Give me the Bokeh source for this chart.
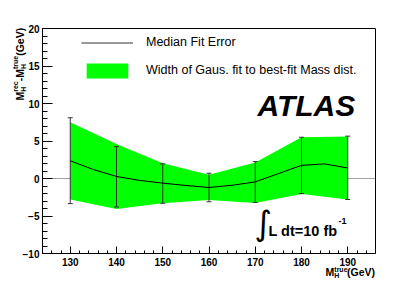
import math
from bokeh.plotting import figure
from bokeh.models import Label, Legend, LegendItem, FixedTicker, BoxAnnotation
from bokeh.embed import file_html
from bokeh.resources import INLINE

# ---- data ----
mass = [130, 140, 150, 160, 170, 180, 190]
band_hi = [7.5, 4.6, 2.05, 0.5, 2.15, 5.5, 5.6]
band_lo = [-2.8, -4.05, -3.3, -2.85, -3.25, -2.05, -2.8]
err_hi = [8.1, 4.25, 1.95, 0.7, 2.25, 5.5, 5.65]
err_lo = [-3.35, -3.8, -3.3, -3.1, -3.2, -2.0, -2.8]
curve_x = [130, 135, 140, 145, 150, 155, 160, 165, 170, 175, 180, 185, 190]
curve_y = [2.36, 1.2, 0.27, -0.25, -0.62, -0.93, -1.2, -0.9, -0.45, 0.65, 1.75, 1.95, 1.4]
x_ticks = [130, 140, 150, 160, 170, 180, 190]
y_ticks = [-10, -5, 0, 5, 10, 15, 20]

FONT = "Liberation Sans"
W, H = 417, 282
X0, X1, Y0, Y1 = 124, 196, -10, 20     # axis box limits
BL, BT, BR, BB = 42, 28, 375, 253      # axis box in canvas px

sx = (X1 - X0) / (BR - BL)
sy = (Y1 - Y0) / (BB - BT)

def dx(px):
    return X0 + (px - BL) * sx

def dy(py):
    return Y1 - (py - BT) * sy

p = figure(width=W, height=H, x_range=(dx(0), dx(W)), y_range=(dy(H), dy(0)),
           output_backend="svg", toolbar_location=None,
           min_border_left=0, min_border_right=0, min_border_top=0, min_border_bottom=0)
p.background_fill_color = "white"
p.border_fill_color = "white"
p.outline_line_color = None
p.grid.visible = False

p.xaxis.ticker = FixedTicker(ticks=x_ticks, minor_ticks=list(range(X0 + 2, X1, 2)))
p.yaxis.ticker = FixedTicker(ticks=y_ticks, minor_ticks=list(range(Y0, Y1 + 1)))
p.xaxis.fixed_location = Y0
p.yaxis.fixed_location = X0
p.xaxis.bounds = (X0, X1)
p.yaxis.bounds = (Y0, Y1)
for ax in (p.xaxis, p.yaxis):
    ax.axis_line_color = "black"
    ax.major_tick_line_color = "black"
    ax.minor_tick_line_color = "black"
    ax.major_tick_out = 0
    ax.minor_tick_out = 0
    ax.major_label_text_font = FONT
    ax.major_label_text_font_style = "bold"
    ax.major_label_text_font_size = "10px"
    ax.major_label_text_color = "black"
p.xaxis.major_tick_in = 7
p.xaxis.minor_tick_in = 3
p.yaxis.major_tick_in = 10
p.yaxis.minor_tick_in = 5
p.xaxis.major_label_standoff = 4
p.yaxis.major_label_standoff = 3

# zero reference line, limited to the axis box, under the band
p.add_layout(BoxAnnotation(left=X0, right=X1, bottom=0, top=0, fill_alpha=0,
                           line_color="#444444", line_width=1, level="underlay"))

band = p.varea(x=mass, y1=band_lo, y2=band_hi, fill_color="#00ff00", fill_alpha=1.0)
bars = p.segment(x0=mass, y0=err_lo, x1=mass, y1=err_hi, line_color="#333333", line_width=1)
p.dash(x=mass, y=err_hi, size=5, line_color="#333333", line_width=1)
p.dash(x=mass, y=err_lo, size=5, line_color="#333333", line_width=1)
p.line(x=curve_x, y=curve_y, line_color="black", line_width=1)

# axis box frame
p.add_layout(BoxAnnotation(left=X0, right=X1, bottom=Y0, top=Y1, fill_alpha=0,
                           line_color="black", line_width=1, line_alpha=1))

legend = Legend(items=[LegendItem(label="Median Fit Error", renderers=[bars]),
                       LegendItem(label="Width of Gaus. fit to best-fit Mass dist.", renderers=[band])],
                location=(81, H - 79.5), orientation="vertical",
                glyph_width=52, glyph_height=19, label_height=19, spacing=9,
                label_standoff=13, padding=0, margin=0,
                border_line_color=None, background_fill_alpha=0,
                label_text_font=FONT, label_text_font_size="12.5px", label_text_color="black")
p.add_layout(legend)

SHIFT = 0.4  # empirical baseline correction, in em

def lab(text, px, py, size, style="bold", font=FONT, rotated=False):
    s = float(size.replace("px", ""))
    if rotated:
        px = px - SHIFT * s
        angle = math.pi / 2
    else:
        py = py - SHIFT * s
        angle = 0.0
    p.add_layout(Label(x=dx(px), y=dy(py), text=text, text_font=font,
                       text_font_size=size, text_font_style=style, text_color="black",
                       text_align="left", text_baseline="alphabetic", angle=angle))

# ATLAS
lab("ATLAS", 257, 116.7, "30px", style="bold italic")

# integral luminosity
lab("\u222b", 254, 236, "34px", style="normal", font="DejaVu Sans")
lab("L dt=10 fb", 268, 236.7, "14.5px")
lab("-1", 338, 224, "9px")

# x axis title
lab("M", 325, 276, "10.5px")
lab("H", 333.8, 277.5, "7px")
lab("true", 333.8, 272, "7px")
lab("(GeV)", 346.5, 276, "10.5px")

# y axis title (rotated)
lab("M", 24.0, 100, "10.5px", rotated=True)
lab("H", 25.3, 91.25, "7px", rotated=True)
lab("rec", 18.0, 91.25, "7px", rotated=True)
lab("-M", 24.0, 80.75, "10.5px", rotated=True)
lab("H", 25.3, 68.5, "7px", rotated=True)
lab("true", 18.0, 68.5, "7px", rotated=True)
lab("(GeV)", 24.0, 55.3, "10.5px", rotated=True)

open("out.html", "w").write(file_html(p, INLINE))
